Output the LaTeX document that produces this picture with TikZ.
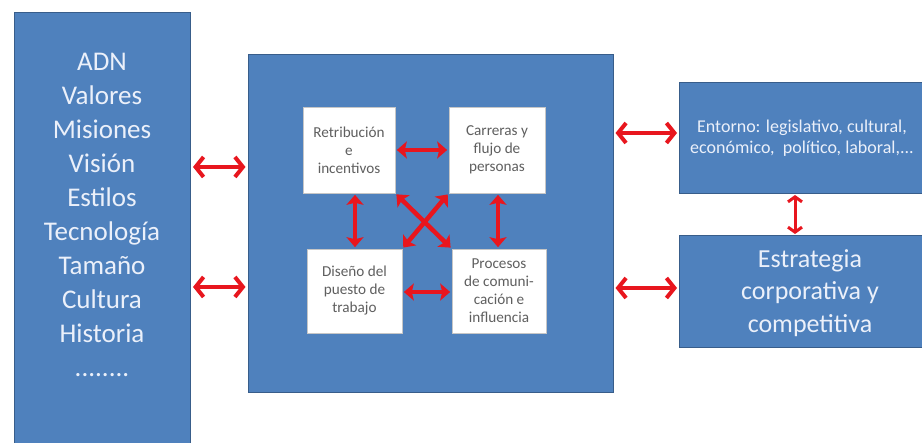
\documentclass[tikz,border=0pt]{standalone}
\usepackage{fontspec}
\setmainfont{Carlito}
\usetikzlibrary{arrows.meta}
\definecolor{boxblue}{RGB}{79,129,189}
\definecolor{boxedge}{RGB}{56,93,138}
\definecolor{arrred}{RGB}{232,22,30}
\definecolor{innertxt}{RGB}{95,95,95}
\definecolor{lighttxt}{RGB}{235,240,250}
\begin{document}
\begin{tikzpicture}[x=1pt,y=-1pt,
 bluebox/.style={draw=boxedge, line width=1pt, fill=boxblue, inner sep=0pt},
 whitebox/.style={draw=gray!45, line width=0.6pt, fill=white, inner sep=0pt, font=\fontsize{15.2}{18}\selectfont, text=innertxt, align=center},
 bigtxt/.style={text=lighttxt, align=center, inner sep=0pt, font=\fontsize{27}{34}\selectfont},
 midtxt/.style={text=lighttxt, align=center, inner sep=0pt, font=\fontsize{26}{32.5}\selectfont},
 smalltxt/.style={text=lighttxt, align=center, inner sep=0pt, font=\fontsize{18}{21}\selectfont},
 outarr/.style={draw=arrred, line width=4pt, shorten <=2pt, shorten >=2pt, {Straight Barb[length=8pt,width=20pt]}-{Straight Barb[length=8pt,width=20pt]}},
 smallarr/.style={draw=arrred, line width=3pt, shorten <=1pt, shorten >=1pt, {Straight Barb[length=5pt,width=14pt]}-{Straight Barb[length=5pt,width=14pt]}},
 inarr/.style={draw=arrred, line width=4.5pt, shorten <=1.5pt, shorten >=1.5pt, {Stealth[length=10pt,width=17pt,inset=2pt]}-{Stealth[length=10pt,width=17pt,inset=2pt]}}
]
\useasboundingbox (0,0) rectangle (922,443);
\clip (0,0) rectangle (922,443);
% outer boxes
\node[bluebox, minimum width=176pt, minimum height=460pt, anchor=north west] (L) at (14,12) {};
\node[bigtxt] (Lt) at (102,215) {ADN\\Valores\\Misiones\\Visión\\Estilos\\Tecnología\\Tamaño\\Cultura\\Historia\\........};
\node[bluebox, minimum width=365pt, minimum height=338pt] (C) at (430.5,224) {};
\node[bluebox, minimum width=262pt, minimum height=111pt, anchor=north west] (E) at (679,82) {};
\node[smalltxt] (Et) at (802,138) {Entorno: legislativo, cultural,\\económico,~ político, laboral,...};
\node[bluebox, minimum width=262pt, minimum height=112pt, anchor=north west] (S) at (679,235) {};
\node[midtxt] (St) at (810,293) {Estrategia\\corporativa y\\competitiva};
% inner boxes
\node[whitebox, minimum width=92pt, minimum height=86pt] (R) at (349,150) {Retribución\\e\\incentivos};
\node[whitebox, minimum width=96pt, minimum height=86pt] (Ca) at (497,150) {Carreras y\\flujo de\\personas};
\node[whitebox, minimum width=95pt, minimum height=84pt] (D) at (354.5,291) {Diseño del\\puesto de\\trabajo};
\node[whitebox, minimum width=94pt, minimum height=84pt] (P) at (499,291) {Procesos\\de comuni-\\cación e\\influencia};
% helper coordinates
\coordinate (ya) at (0,167);
\coordinate (yb) at (0,287);
\coordinate (yc) at (0,133);
\coordinate (yd) at (0,288);
\coordinate (xv) at (795,0);
\coordinate (yt) at (0,150);
\coordinate (ybt) at (0,292);
\coordinate (xl) at (355,0);
\coordinate (xr) at (498,0);
% outer arrows
\draw[outarr] (L.east |- ya) -- (C.west |- ya);
\draw[outarr] (L.east |- yb) -- (C.west |- yb);
\draw[outarr] (C.east |- yc) -- (E.west |- yc);
\draw[outarr] (C.east |- yd) -- (S.west |- yd);
\draw[smallarr] (xv |- E.south) -- (xv |- S.north);
% inner arrows
\draw[inarr] (R.east |- yt) -- (Ca.west |- yt);
\draw[inarr] (D.east |- ybt) -- (P.west |- ybt);
\draw[inarr] (xl |- R.south) -- (xl |- D.north);
\draw[inarr] (xr |- Ca.south) -- (xr |- P.north);
\draw[inarr] (R.south east) -- (P.north west);
\draw[inarr] (Ca.south west) -- (D.north east);
\end{tikzpicture}
\end{document}
